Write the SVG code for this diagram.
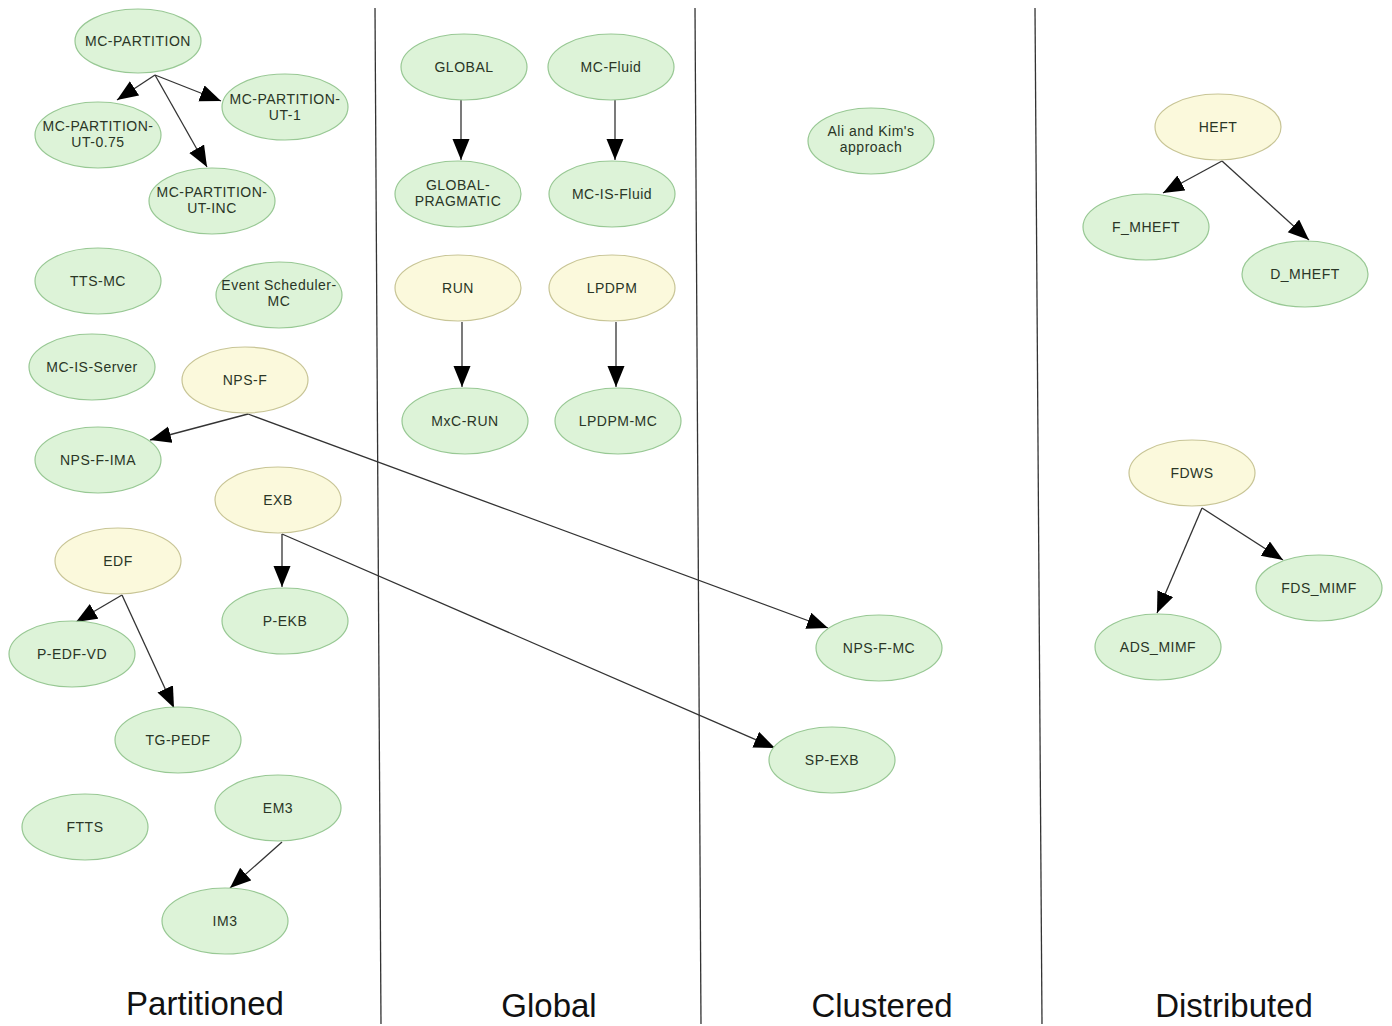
<svg xmlns="http://www.w3.org/2000/svg" width="1392" height="1026" viewBox="0 0 1392 1026">
  <style>
    .n ellipse { stroke-width: 1.2; }
    .g ellipse { fill: #ddf3d8; stroke: #98c894; }
    .y ellipse { fill: #fbf9dc; stroke: #c8c596; }
    .n text { font-family: "Liberation Sans", Arial, sans-serif; font-size: 14px; fill: #2a3626; text-anchor: middle; letter-spacing: 0.5px; }
    .edges line { stroke: #333; stroke-width: 1.3; marker-end: url(#arr); }
    .div line { stroke: #333; stroke-width: 1.3; }
    .lane { font-family: "Liberation Sans", Arial, sans-serif; font-size: 33px; fill: #111; text-anchor: middle; }
  </style>
  <defs>
    <marker id="arr" markerUnits="userSpaceOnUse" markerWidth="23" markerHeight="19" refX="21" refY="8.5" orient="auto">
      <path d="M0,0 L21,8.5 L0,17 z" fill="#000"/>
    </marker>
  </defs>
  <rect width="1392" height="1026" fill="#fff"/>

  <!-- lane dividers -->
  <g class="div">
    <line x1="375" y1="8" x2="381" y2="1024"/>
    <line x1="695" y1="8" x2="701" y2="1024"/>
    <line x1="1035" y1="8" x2="1042" y2="1024"/>
  </g>

  <!-- connectors -->
  <g class="edges">
    <line x1="155" y1="75" x2="117" y2="100"/>
    <line x1="155" y1="75" x2="221" y2="101"/>
    <line x1="155" y1="75" x2="207" y2="167"/>
    <line x1="461" y1="100" x2="461" y2="160"/>
    <line x1="615" y1="100" x2="615" y2="160"/>
    <line x1="462" y1="322" x2="462" y2="387"/>
    <line x1="616" y1="322" x2="616" y2="387"/>
    <line x1="248" y1="414" x2="150" y2="440"/>
    <line x1="248" y1="414" x2="828" y2="628"/>
    <line x1="282" y1="534" x2="282" y2="587"/>
    <line x1="282" y1="534" x2="775" y2="748"/>
    <line x1="122" y1="595" x2="76" y2="622"/>
    <line x1="122" y1="595" x2="174" y2="708"/>
    <line x1="282" y1="842" x2="230" y2="888"/>
    <line x1="1222" y1="161" x2="1163" y2="193"/>
    <line x1="1222" y1="161" x2="1309" y2="240"/>
    <line x1="1202" y1="508" x2="1157" y2="613"/>
    <line x1="1202" y1="508" x2="1283" y2="560"/>
  </g>

  <!-- Partitioned -->
  <g id="mc-partition" class="n g"><ellipse cx="138" cy="41" rx="63" ry="32"/><text x="138" y="46">MC-PARTITION</text></g>
  <g id="mc-partition-ut-075" class="n g"><ellipse cx="98" cy="135" rx="63" ry="33"/><text x="98" y="131">MC-PARTITION-</text><text x="98" y="147">UT-0.75</text></g>
  <g id="mc-partition-ut-1" class="n g"><ellipse cx="285" cy="107" rx="63" ry="33"/><text x="285" y="104">MC-PARTITION-</text><text x="285" y="120">UT-1</text></g>
  <g id="mc-partition-ut-inc" class="n g"><ellipse cx="212" cy="201" rx="63" ry="33"/><text x="212" y="197">MC-PARTITION-</text><text x="212" y="213">UT-INC</text></g>
  <g id="tts-mc" class="n g"><ellipse cx="98" cy="281" rx="63" ry="33"/><text x="98" y="286">TTS-MC</text></g>
  <g id="event-scheduler-mc" class="n g"><ellipse cx="279" cy="295" rx="63" ry="33"/><text x="279" y="290">Event Scheduler-</text><text x="279" y="306">MC</text></g>
  <g id="mc-is-server" class="n g"><ellipse cx="92" cy="367" rx="63" ry="33"/><text x="92" y="372">MC-IS-Server</text></g>
  <g id="nps-f" class="n y"><ellipse cx="245" cy="380" rx="63" ry="33"/><text x="245" y="385">NPS-F</text></g>
  <g id="nps-f-ima" class="n g"><ellipse cx="98" cy="460" rx="63" ry="33"/><text x="98" y="465">NPS-F-IMA</text></g>
  <g id="exb" class="n y"><ellipse cx="278" cy="500" rx="63" ry="33"/><text x="278" y="505">EXB</text></g>
  <g id="edf" class="n y"><ellipse cx="118" cy="561" rx="63" ry="33"/><text x="118" y="566">EDF</text></g>
  <g id="p-ekb" class="n g"><ellipse cx="285" cy="621" rx="63" ry="33"/><text x="285" y="626">P-EKB</text></g>
  <g id="p-edf-vd" class="n g"><ellipse cx="72" cy="654" rx="63" ry="33"/><text x="72" y="659">P-EDF-VD</text></g>
  <g id="tg-pedf" class="n g"><ellipse cx="178" cy="740" rx="63" ry="33"/><text x="178" y="745">TG-PEDF</text></g>
  <g id="ftts" class="n g"><ellipse cx="85" cy="827" rx="63" ry="33"/><text x="85" y="832">FTTS</text></g>
  <g id="em3" class="n g"><ellipse cx="278" cy="808" rx="63" ry="33"/><text x="278" y="813">EM3</text></g>
  <g id="im3" class="n g"><ellipse cx="225" cy="921" rx="63" ry="33"/><text x="225" y="926">IM3</text></g>

  <!-- Global -->
  <g id="global" class="n g"><ellipse cx="464" cy="67" rx="63" ry="33"/><text x="464" y="72">GLOBAL</text></g>
  <g id="mc-fluid" class="n g"><ellipse cx="611" cy="67" rx="63" ry="33"/><text x="611" y="72">MC-Fluid</text></g>
  <g id="global-pragmatic" class="n g"><ellipse cx="458" cy="194" rx="63" ry="33"/><text x="458" y="190">GLOBAL-</text><text x="458" y="206">PRAGMATIC</text></g>
  <g id="mc-is-fluid" class="n g"><ellipse cx="612" cy="194" rx="63" ry="33"/><text x="612" y="199">MC-IS-Fluid</text></g>
  <g id="run" class="n y"><ellipse cx="458" cy="288" rx="63" ry="33"/><text x="458" y="293">RUN</text></g>
  <g id="lpdpm" class="n y"><ellipse cx="612" cy="288" rx="63" ry="33"/><text x="612" y="293">LPDPM</text></g>
  <g id="mxc-run" class="n g"><ellipse cx="465" cy="421" rx="63" ry="33"/><text x="465" y="426">MxC-RUN</text></g>
  <g id="lpdpm-mc" class="n g"><ellipse cx="618" cy="421" rx="63" ry="33"/><text x="618" y="426">LPDPM-MC</text></g>

  <!-- Clustered -->
  <g id="ali-kim" class="n g"><ellipse cx="871" cy="141" rx="63" ry="33"/><text x="871" y="136">Ali and Kim's</text><text x="871" y="152">approach</text></g>
  <g id="nps-f-mc" class="n g"><ellipse cx="879" cy="648" rx="63" ry="33"/><text x="879" y="653">NPS-F-MC</text></g>
  <g id="sp-exb" class="n g"><ellipse cx="832" cy="760" rx="63" ry="33"/><text x="832" y="765">SP-EXB</text></g>

  <!-- Distributed -->
  <g id="heft" class="n y"><ellipse cx="1218" cy="127" rx="63" ry="33"/><text x="1218" y="132">HEFT</text></g>
  <g id="f-mheft" class="n g"><ellipse cx="1146" cy="227" rx="63" ry="33"/><text x="1146" y="232">F_MHEFT</text></g>
  <g id="d-mheft" class="n g"><ellipse cx="1305" cy="274" rx="63" ry="33"/><text x="1305" y="279">D_MHEFT</text></g>
  <g id="fdws" class="n y"><ellipse cx="1192" cy="473" rx="63" ry="33"/><text x="1192" y="478">FDWS</text></g>
  <g id="fds-mimf" class="n g"><ellipse cx="1319" cy="588" rx="63" ry="33"/><text x="1319" y="593">FDS_MIMF</text></g>
  <g id="ads-mimf" class="n g"><ellipse cx="1158" cy="647" rx="63" ry="33"/><text x="1158" y="652">ADS_MIMF</text></g>

  <!-- lane titles -->
  <text class="lane" x="205" y="1015">Partitioned</text>
  <text class="lane" x="549" y="1017">Global</text>
  <text class="lane" x="882" y="1017">Clustered</text>
  <text class="lane" x="1234" y="1017">Distributed</text>
</svg>
